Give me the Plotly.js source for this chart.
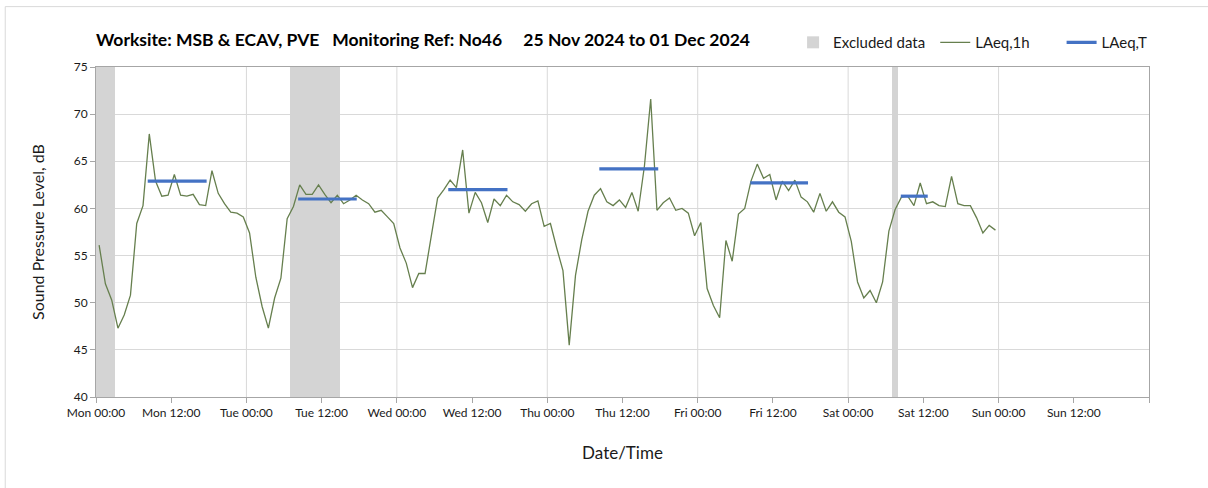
<!DOCTYPE html>
<html>
<head>
<meta charset="utf-8">
<script src="https://cdn.plot.ly/plotly-3.0.1.min.js"></script>
<style>
  html, body { margin: 0; padding: 0; background: #ffffff; }
  #chart { width: 1208px; height: 488px; }
</style>
</head>
<body>
<div id="chart"></div>
<script>
// ---- Data (hours measured from Mon 25 Nov 2024 00:00) ----
const startDateUTC = Date.UTC(2024, 10, 25, 0, 0, 0);

// Hourly LAeq,1h values, one per hour, plotted at the middle of each hour (00:30, 01:30, ...)
const hourlyLAeq = [
  56.1, 52.0, 50.3, 47.3, 48.7, 50.8, 58.4, 60.3, 67.9, 62.9, 61.3, 61.4,
  63.6, 61.4, 61.3, 61.5, 60.4, 60.3, 64.0, 61.6, 60.5, 59.6, 59.5, 59.1,
  57.4, 52.7, 49.6, 47.3, 50.5, 52.6, 58.9, 60.2, 62.5, 61.5, 61.5, 62.5,
  61.5, 60.6, 61.4, 60.5, 60.9, 61.4, 60.9, 60.5, 59.6, 59.8, 59.1, 58.4,
  55.8, 54.2, 51.6, 53.1, 53.1, 57.0, 61.1, 62.0, 63.0, 62.2, 66.2, 59.5,
  61.7, 60.6, 58.5, 61.0, 60.3, 61.4, 60.7, 60.4, 59.7, 60.5, 60.8, 58.1,
  58.4, 55.8, 53.4, 45.5, 52.9, 56.7, 59.7, 61.4, 62.1, 60.7, 60.3, 60.9,
  60.1, 61.7, 59.7, 64.5, 71.6, 59.8, 60.6, 61.1, 59.8, 60.0, 59.5, 57.1,
  58.5, 51.5, 49.7, 48.4, 56.6, 54.4, 59.4, 60.0, 62.9, 64.7, 63.2, 63.6,
  60.9, 62.9, 61.9, 63.0, 61.2, 60.7, 59.6, 61.6, 59.7, 60.7, 59.6, 59.1,
  56.5, 52.2, 50.5, 51.3, 50.0, 52.2, 57.6, 59.9, 61.2, 61.3, 60.3, 62.7,
  60.5, 60.7, 60.3, 60.2, 63.4, 60.5, 60.3, 60.3, 59.0, 57.4, 58.2, 57.7
];

// Excluded data periods (start / end hour)
const excludedStartH = [0, 31, 127];
const excludedEndH   = [3, 39, 128];

// LAeq,T daytime periods
const periodStartH = [8.25, 32.25, 56.2, 80.3, 104.4, 128.4];
const periodEndH   = [17.65, 41.6, 65.65, 89.7, 113.6, 132.7];
const periodLAeqT  = [62.9, 61.0, 62.0, 64.2, 62.7, 61.3];

// Axis ticks
const tickHours  = [0, 12, 24, 36, 48, 60, 72, 84, 96, 108, 120, 132, 144, 156, 168];
const tickLabels = ['Mon 00:00', 'Mon 12:00', 'Tue 00:00', 'Tue 12:00', 'Wed 00:00', 'Wed 12:00',
                    'Thu 00:00', 'Thu 12:00', 'Fri 00:00', 'Fri 12:00', 'Sat 00:00', 'Sat 12:00',
                    'Sun 00:00', 'Sun 12:00', ''];
const dayGridHours = [24, 48, 72, 96, 120, 144];

// ---- Helpers ----
function t(h) {
  return new Date(startDateUTC + h * 3600000).toISOString().replace('T', ' ').slice(0, 19);
}

const FONT = 'Lato, "Noto Sans", sans-serif';
const GRID = '#d9d9d9';
const AXIS = '#a6a6a6';
const TXT = '#1a1a1a';

// Excluded-data bands as bars
const exclX = excludedStartH.map((s, i) => t((s + excludedEndH[i]) / 2));
const exclW = excludedStartH.map((s, i) => (excludedEndH[i] - s) * 3600000);
const exclY = excludedStartH.map(() => 35);

const traceExcluded = {
  type: 'bar', name: 'Excluded data', legend: 'legend',
  x: exclX, y: exclY, base: 40, width: exclW,
  marker: { color: '#d4d4d4', line: { width: 0 } },
  hoverinfo: 'skip'
};

const trace1h = {
  type: 'scatter', mode: 'lines', name: 'LAeq,1h', legend: 'legend2',
  x: hourlyLAeq.map((v, i) => t(i + 0.5)),
  y: hourlyLAeq,
  line: { color: '#667f4e', width: 1.3 }
};

const tx = [], ty = [];
periodLAeqT.forEach((v, i) => {
  tx.push(t(periodStartH[i]), t(periodEndH[i]), null);
  ty.push(v, v, null);
});
const traceT = {
  type: 'scatter', mode: 'lines', name: 'LAeq,T', legend: 'legend3',
  x: tx, y: ty, connectgaps: false,
  line: { color: '#4472c4', width: 3.2 }
};

const shapes = dayGridHours.map(h => ({
  type: 'line', xref: 'x', yref: 'paper', x0: t(h), x1: t(h), y0: 0, y1: 1,
  line: { color: GRID, width: 1 }, layer: 'below'
}));
// outer chart frame (left and top edges)
shapes.push({ type: 'line', xref: 'paper', yref: 'paper', x0: -0.0862, x1: -0.0862, y0: 1.183, y1: -0.30,
  line: { color: GRID, width: 1 } });
shapes.push({ type: 'line', xref: 'paper', yref: 'paper', x0: -0.0862, x1: 1.06, y0: 1.183, y1: 1.183,
  line: { color: GRID, width: 1 } });

function legendAt(x) {
  return {
    orientation: 'h', x: x, xanchor: 'left', y: 1.074, yanchor: 'middle',
    font: { family: FONT, size: 15, color: TXT },
    bgcolor: 'rgba(0,0,0,0)'
  };
}

const layout = {
  width: 1208, height: 488,
  margin: { l: 96, r: 59, t: 67, b: 91 },
  paper_bgcolor: '#ffffff', plot_bgcolor: '#ffffff',
  font: { family: FONT, color: TXT, size: 12 },
  bargap: 0,
  title: {
    text: '<b>Worksite: MSB &amp; ECAV, PVE\u00a0\u00a0\u00a0Monitoring Ref: No46\u00a0\u00a0\u00a0\u00a0\u00a025 Nov 2024 to 01 Dec 2024</b>',
    font: { family: FONT, size: 17.5, color: '#000000' },
    xref: 'paper', x: 0, xanchor: 'left',
    yref: 'container', y: 1 - 40 / 488, yanchor: 'middle'
  },
  legend: legendAt(0.662),
  legend2: legendAt(0.797),
  legend3: legendAt(0.917),
  xaxis: {
    type: 'date',
    range: [t(0), t(168)],
    tickmode: 'array', tickvals: tickHours.map(t), ticktext: tickLabels,
    showgrid: false, zeroline: false,
    showline: true, linecolor: AXIS, linewidth: 1, mirror: true,
    ticks: 'outside', ticklen: 5, tickcolor: AXIS,
    tickfont: { family: FONT, size: 12, color: TXT },
    title: { text: 'Date/Time', font: { family: FONT, size: 17, color: TXT }, standoff: 27 }
  },
  yaxis: {
    range: [40, 75], dtick: 5, tick0: 40,
    showgrid: true, gridcolor: GRID, zeroline: false,
    showline: true, linecolor: AXIS, linewidth: 1, mirror: true,
    ticks: 'outside', ticklen: 5, tickcolor: AXIS,
    tickfont: { family: FONT, size: 12, color: TXT },
    title: { text: 'Sound Pressure Level, dB', font: { family: FONT, size: 16, color: TXT }, standoff: 25 }
  },
  shapes: shapes,
  showlegend: true
};

Plotly.newPlot('chart', [traceExcluded, trace1h, traceT], layout, { displayModeBar: false, staticPlot: true });
</script>
</body>
</html>
